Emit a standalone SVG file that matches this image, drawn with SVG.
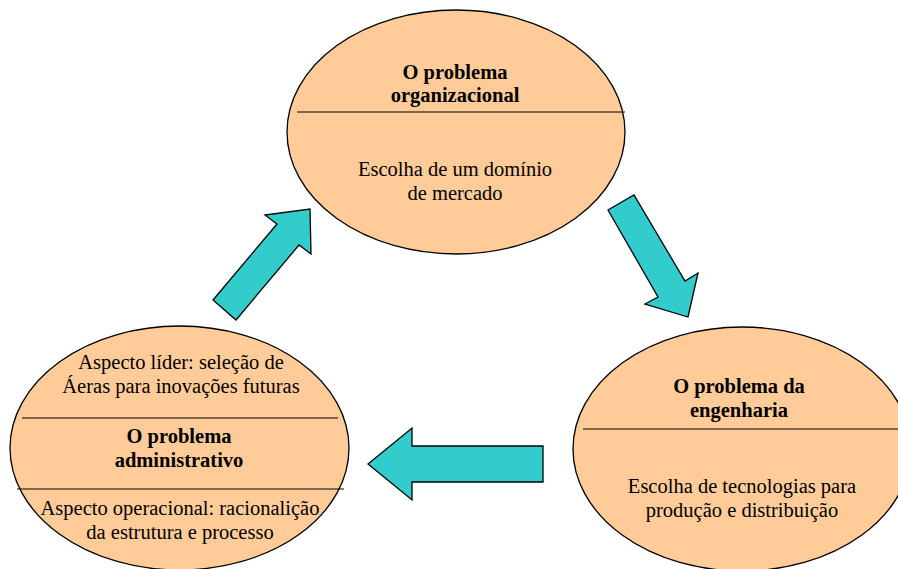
<svg xmlns="http://www.w3.org/2000/svg" width="898" height="569" viewBox="0 0 898 569">
  <style>
    .oval { fill: #FFCC99; stroke: #000; stroke-width: 1.3; }
    .rule { stroke: #000; stroke-width: 1.2; fill: none; }
    .arrow { fill: #33CCCC; stroke: #000; stroke-width: 1.3; stroke-linejoin: miter; }
    text { font-family: "Liberation Serif", "Times New Roman", serif; font-size: 20.5px; fill: #000; text-anchor: middle; }
    .title { font-weight: bold; }
  </style>
  <rect width="898" height="569" fill="#fff"/>

  <!-- cycle arrows -->
  <g id="connectors">
    <polygon class="arrow" points="213,300 277,224 265,215 310,209 311,254 299,245 236,320"/>
    <polygon class="arrow" points="608,210 634,195 685,281 698,273 688,317 645,304 658,297"/>
    <polygon class="arrow" points="368,464 412,428 412,446 543,446 543,482 412,482 412,500"/>
  </g>

  <g id="organizacional">
    <ellipse class="oval" cx="456" cy="132" rx="169" ry="122"/>
    <line class="rule" x1="297" y1="112" x2="625" y2="112"/>
    <text class="title" x="455" y="79">O problema</text>
    <text class="title" x="455" y="102">organizacional</text>
    <text x="455" y="176">Escolha de um domínio</text>
    <text x="455" y="200">de mercado</text>
  </g>

  <g id="engenharia">
    <ellipse class="oval" cx="742" cy="449" rx="169" ry="122"/>
    <line class="rule" x1="583" y1="429" x2="898" y2="429"/>
    <text class="title" x="739" y="393">O problema da</text>
    <text class="title" x="739" y="417">engenharia</text>
    <text x="742" y="493">Escolha de tecnologias para</text>
    <text x="742" y="517">produção e distribuição</text>
  </g>

  <g id="administrativo">
    <ellipse class="oval" cx="179.5" cy="448" rx="169.5" ry="122"/>
    <line class="rule" x1="22" y1="418" x2="338" y2="418"/>
    <line class="rule" x1="17" y1="489" x2="344" y2="489"/>
    <text x="181" y="369">Aspecto líder: seleção de</text>
    <text x="181" y="393">Áeras para inovações futuras</text>
    <text class="title" x="179" y="443">O problema</text>
    <text class="title" x="179" y="467">administrativo</text>
    <text x="180" y="515">Aspecto operacional: racionalição</text>
    <text x="180" y="539">da estrutura e processo</text>
  </g>
</svg>
